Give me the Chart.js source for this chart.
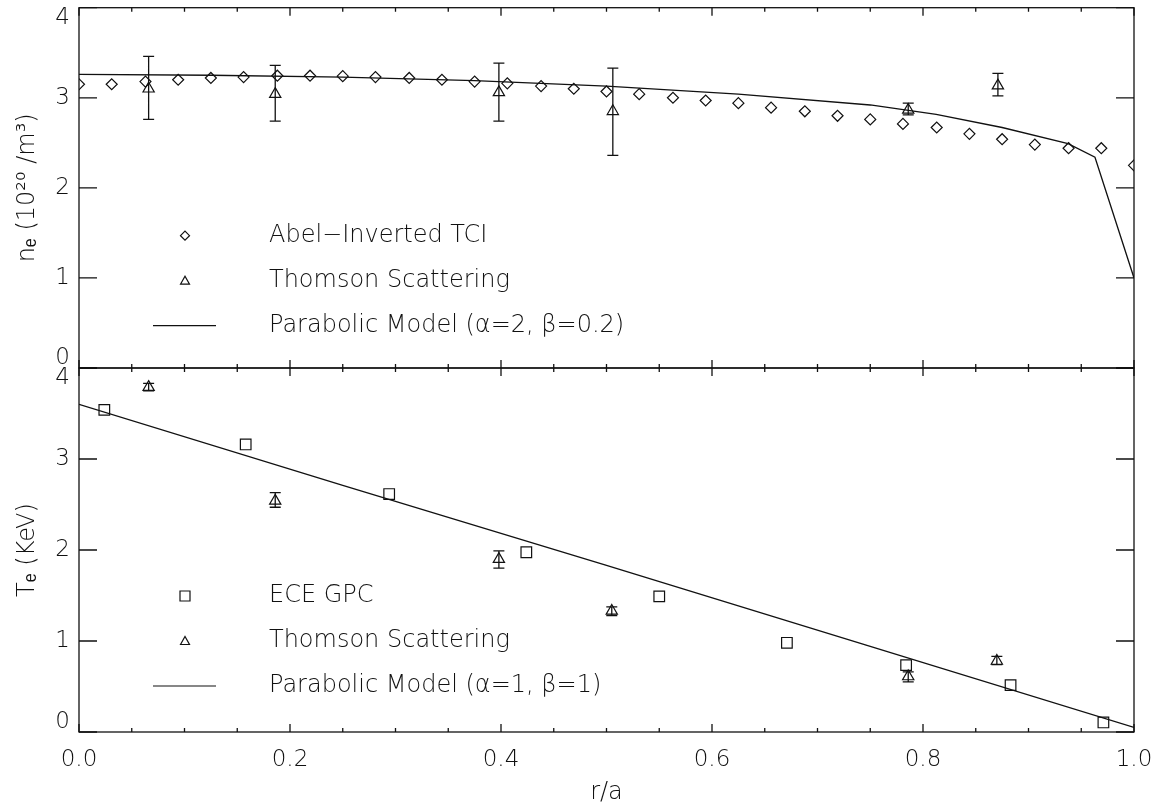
<!DOCTYPE html>
<html>
<head>
<meta charset="utf-8">
<script src="https://cdn.jsdelivr.net/npm/chart.js@4.4.1/dist/chart.umd.min.js"></script>
<style>
  html, body { margin: 0; padding: 0; background: #fff; }
  #wrap { position: relative; width: 1167px; height: 809px; }
  #wrap canvas { position: absolute; left: 0; top: 0; }
</style>
</head>
<body>
<div id="wrap">
  <canvas id="neChart" width="1167" height="809"></canvas>
  <canvas id="teChart" width="1167" height="809"></canvas>
</div>
<script>
/* ---- axes ---- */
const yTicks = [0, 1, 2, 3, 4];
const xMajor = [0, 0.2, 0.4, 0.6, 0.8, 1.0];
const xMinor = [0, 0.05, 0.1, 0.15, 0.2, 0.25, 0.3, 0.35, 0.4, 0.45, 0.5,
                0.55, 0.6, 0.65, 0.7, 0.75, 0.8, 0.85, 0.9, 0.95, 1.0];

/* ---- top panel: density ---- */
const rTci = [0.000, 0.031, 0.063, 0.094, 0.125, 0.156, 0.188, 0.219, 0.250, 0.281, 0.313,
              0.344, 0.375, 0.406, 0.438, 0.469, 0.500, 0.531, 0.563, 0.594, 0.625, 0.656,
              0.688, 0.719, 0.750, 0.781, 0.813, 0.844, 0.875, 0.906, 0.938, 0.969, 1.000];
const neTci = [3.15, 3.15, 3.18, 3.20, 3.22, 3.23, 3.245, 3.245, 3.24, 3.23, 3.22,
               3.20, 3.18, 3.16, 3.13, 3.10, 3.07, 3.04, 3.00, 2.97, 2.94, 2.89,
               2.85, 2.80, 2.76, 2.71, 2.67, 2.60, 2.54, 2.48, 2.44, 2.44, 2.25];

const rTsN = [0.066, 0.186, 0.398, 0.506, 0.786, 0.871];
const neTs = [3.10, 3.04, 3.06, 2.85, 2.865, 3.135];
const neTsHi = [3.46, 3.36, 3.385, 3.33, 2.94, 3.27];
const neTsLo = [2.76, 2.74, 2.74, 2.36, 2.81, 3.02];

const rModelN = [0, 0.125, 0.25, 0.375, 0.5, 0.625, 0.75, 0.8125, 0.875, 0.9375, 0.963, 1.0];
const neModel = [3.26, 3.25, 3.23, 3.19, 3.13, 3.04, 2.92, 2.815, 2.67, 2.49, 2.34, 1.0];

/* ---- bottom panel: temperature ---- */
const rEce = [0.024, 0.158, 0.294, 0.424, 0.550, 0.671, 0.784, 0.883, 0.971];
const teEce = [3.54, 3.16, 2.615, 1.975, 1.49, 0.98, 0.735, 0.515, 0.105];

const rTsT = [0.066, 0.186, 0.398, 0.505, 0.786, 0.870];
const teTs = [3.79, 2.54, 1.90, 1.33, 0.61, 0.78];
const teTsHi = [3.83, 2.63, 1.99, 1.375, 0.66, 0.83];
const teTsLo = [3.75, 2.47, 1.80, 1.28, 0.55, 0.74];

const rModelT = [0, 0.25, 0.5, 0.75, 1.0];
const teModel = [3.60, 2.71, 1.83, 0.94, 0.05];

const INK = '#111';
Chart.defaults.font.family = '"DejaVu Sans", sans-serif';
Chart.defaults.font.weight = 300;
Chart.defaults.color = '#111';

const pts = (xs, ys) => xs.map((x, i) => ({ x: x, y: ys[i] }));

/* frame + inward ticks */
const frameTicks = {
  id: 'frameTicks',
  afterDatasetsDraw(chart) {
    const { ctx, chartArea: a, scales: { x, y } } = chart;
    ctx.save();
    ctx.strokeStyle = INK;
    ctx.lineWidth = 1.3;
    ctx.strokeRect(a.left, a.top, a.right - a.left, a.bottom - a.top);
    ctx.beginPath();
    xMinor.forEach((v, i) => {
      const px = x.getPixelForValue(v);
      const len = i % 4 === 0 ? 8 : 4;
      ctx.moveTo(px, a.top); ctx.lineTo(px, a.top + len);
      ctx.moveTo(px, a.bottom); ctx.lineTo(px, a.bottom - len);
    });
    yTicks.forEach(v => {
      const py = y.getPixelForValue(v);
      ctx.moveTo(a.left, py); ctx.lineTo(a.left + 18, py);
      ctx.moveTo(a.right, py); ctx.lineTo(a.right - 18, py);
    });
    ctx.stroke();
    ctx.restore();
  }
};

/* error bars from errLo / errHi on the dataset */
const errorBars = {
  id: 'errorBars',
  afterDatasetsDraw(chart) {
    const { ctx, scales: { x, y } } = chart;
    chart.data.datasets.forEach(ds => {
      if (!ds.errLo) return;
      ctx.save();
      ctx.strokeStyle = INK;
      ctx.lineWidth = 1.3;
      ctx.beginPath();
      ds.data.forEach((p, i) => {
        const px = x.getPixelForValue(p.x);
        const top = y.getPixelForValue(ds.errHi[i]);
        const bot = y.getPixelForValue(ds.errLo[i]);
        ctx.moveTo(px, top); ctx.lineTo(px, bot);
        ctx.moveTo(px - 5.5, top); ctx.lineTo(px + 5.5, top);
        ctx.moveTo(px - 5.5, bot); ctx.lineTo(px + 5.5, bot);
      });
      ctx.stroke();
      ctx.restore();
    });
  }
};

/* legend drawn inside the plot */
const insideLegend = {
  id: 'insideLegend',
  afterDraw(chart) {
    const { ctx, chartArea: a } = chart;
    ctx.save();
    ctx.strokeStyle = INK;
    ctx.lineWidth = 1.2;
    ctx.fillStyle = '#111';
    ctx.font = '300 24px "DejaVu Sans", sans-serif';
    ctx.textBaseline = 'middle';
    chart.data.datasets.forEach((ds, i) => {
      const yy = a.top + 228 + i * 45;
      const mx = a.left + 106;
      ctx.beginPath();
      if (ds.showLine) {
        ctx.moveTo(a.left + 74, yy); ctx.lineTo(a.left + 137, yy);
      } else if (ds.pointStyle === 'rectRot') {
        ctx.moveTo(mx - 4.5, yy); ctx.lineTo(mx, yy - 4.5);
        ctx.lineTo(mx + 4.5, yy); ctx.lineTo(mx, yy + 4.5); ctx.closePath();
      } else if (ds.pointStyle === 'triangle') {
        ctx.moveTo(mx - 4.5, yy + 3.5); ctx.lineTo(mx, yy - 4.5);
        ctx.lineTo(mx + 4.5, yy + 3.5); ctx.closePath();
      } else {
        ctx.rect(mx - 5, yy - 5, 10, 10);
      }
      ctx.stroke();
      ctx.fillText(ds.label, a.left + 190, yy);
    });
    ctx.restore();
  }
};

function yAxis(title) {
  return {
    type: 'linear', min: 0, max: 4,
    afterFit(s) { s.width = 79; s.paddingTop = 0; s.paddingBottom = 0; },
    afterBuildTicks(s) { s.ticks = yTicks.map(v => ({ value: v })); },
    grid: { display: false, drawTicks: false },
    border: { display: false },
    ticks: {
      padding: 9,
      font: { size: 23, lineHeight: '20px' },
      callback: v => v === 4 ? ['', '4'] : (v === 0 ? ['0', ''] : String(v))
    },
    title: { display: true, text: title, font: { size: 24 }, padding: { top: 13, bottom: 0 } }
  };
}

function pointSet(label, xs, ys, style, radius, lo, hi) {
  return {
    label: label,
    data: pts(xs, ys),
    showLine: false,
    pointStyle: style,
    pointRadius: radius,
    pointBorderWidth: 1.2,
    pointBorderColor: INK,
    pointBackgroundColor: 'rgba(0,0,0,0)',
    clip: 0,
    errLo: lo,
    errHi: hi
  };
}

function lineSet(label, xs, ys) {
  return {
    label: label,
    data: pts(xs, ys),
    showLine: true,
    borderColor: INK,
    borderWidth: 1.3,
    pointRadius: 0,
    tension: 0
  };
}

const common = {
  responsive: false,
  animation: false,
  events: [],
  plugins: { legend: { display: false }, tooltip: { enabled: false } }
};

/* top chart */
new Chart(document.getElementById('neChart'), {
  type: 'scatter',
  data: {
    datasets: [
      pointSet('Abel\u2212Inverted TCI', rTci, neTci, 'rectRot', 5.5),
      pointSet('Thomson Scattering', rTsN, neTs, 'triangle', 6.5, neTsLo, neTsHi),
      lineSet('Parabolic Model (\u03b1=2, \u03b2=0.2)', rModelN, neModel)
    ]
  },
  options: Object.assign({}, common, {
    layout: { padding: { top: 4, bottom: 441, left: 0, right: 33 } },
    scales: {
      x: { type: 'linear', min: 0, max: 1, display: false },
      y: yAxis('n\u2091 (10\u00b2\u2070 /m\u00b3)')
    }
  }),
  plugins: [frameTicks, errorBars, insideLegend]
});

/* bottom chart */
new Chart(document.getElementById('teChart'), {
  type: 'scatter',
  data: {
    datasets: [
      pointSet('ECE GPC', rEce, teEce, 'rect', 7.5),
      pointSet('Thomson Scattering', rTsT, teTs, 'triangle', 6.5, teTsLo, teTsHi),
      lineSet('Parabolic Model (\u03b1=1, \u03b2=1)', rModelT, teModel)
    ]
  },
  options: Object.assign({}, common, {
    layout: { padding: { top: 368, bottom: 0, left: 0, right: 33 } },
    scales: {
      x: {
        type: 'linear', min: 0, max: 1,
        afterFit(s) { s.height = 77; s.paddingLeft = 0; s.paddingRight = 0; },
        afterBuildTicks(s) { s.ticks = xMajor.map(v => ({ value: v })); },
        grid: { display: false, drawTicks: false },
        border: { display: false },
        ticks: { padding: 14, maxRotation: 0, font: { size: 23 }, callback: v => v.toFixed(1) },
        title: { display: true, text: 'r/a', font: { size: 24 }, padding: { top: 0, bottom: 2 } }
      },
      y: yAxis('T\u2091 (KeV)')
    }
  }),
  plugins: [frameTicks, errorBars, insideLegend]
});
</script>
</body>
</html>
